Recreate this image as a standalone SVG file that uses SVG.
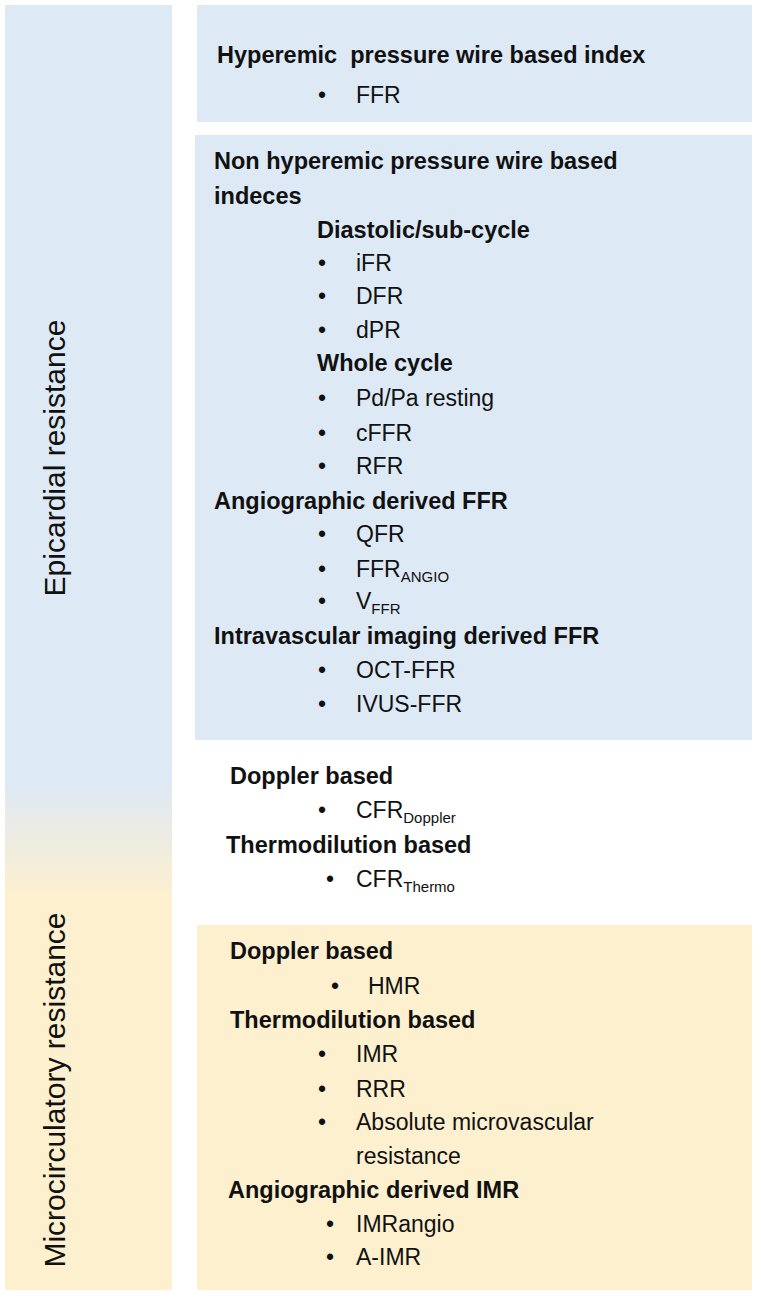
<svg xmlns="http://www.w3.org/2000/svg" width="761" height="1304" viewBox="0 0 761 1304">
<style>
text{font-family:"Liberation Sans",Arial,sans-serif;fill:#111;}
.h{font-size:23.5px;font-weight:bold;}
.t{font-size:23px;}
.s{font-size:15px;}
.v{font-size:30px;}
.blue{fill:#dde9f5;}
.yel{fill:#fdf0cf;}
</style>
<defs>
<linearGradient id="g" x1="0" y1="0" x2="0" y2="1">
<stop offset="0" stop-color="#dde9f5"/>
<stop offset="1" stop-color="#fbefd2"/>
</linearGradient>
</defs>
<rect width="761" height="1304" fill="#fff"/>
<g id="left-epicardial">
<rect x="5" y="5" width="167" height="775" class="blue"/>
<rect x="5" y="779" width="167" height="112" fill="url(#g)"/>
<text class="v" transform="translate(65,458) rotate(-90)" text-anchor="middle">Epicardial  resistance</text>
</g>
<g id="left-micro">
<rect x="5" y="890" width="167" height="400" class="yel"/>
<text class="v" transform="translate(65,1090) rotate(-90)" text-anchor="middle">Microcirculatory resistance</text>
</g>
<g id="hyperemic">
<rect x="197" y="5" width="555" height="117" class="blue"/>
<text class="h" x="217" y="63" xml:space="preserve">Hyperemic  pressure wire based index</text>
<text class="t" x="318" y="103">•</text><text class="t" x="356" y="103">FFR</text>
</g>
<g id="nonhyperemic">
<rect x="195" y="135" width="557" height="605" class="blue"/>
<text class="h" x="214" y="169">Non hyperemic pressure wire based</text>
<text class="h" x="214" y="204">indeces</text>
<text class="h" x="317" y="238">Diastolic/sub-cycle</text>
<text class="t" x="318" y="271">•</text><text class="t" x="356" y="271">iFR</text>
<text class="t" x="318" y="304">•</text><text class="t" x="356" y="304">DFR</text>
<text class="t" x="318" y="338">•</text><text class="t" x="356" y="338">dPR</text>
<text class="h" x="317" y="371">Whole cycle</text>
<text class="t" x="318" y="406">•</text><text class="t" x="356" y="406">Pd/Pa resting</text>
<text class="t" x="318" y="441">•</text><text class="t" x="356" y="441">cFFR</text>
<text class="t" x="318" y="474">•</text><text class="t" x="356" y="474">RFR</text>
<text class="h" x="214" y="509">Angiographic derived FFR</text>
<text class="t" x="318" y="542">•</text><text class="t" x="356" y="542">QFR</text>
<text class="t" x="318" y="577">•</text><text class="t" x="356" y="577">FFR<tspan class="s" dy="5">ANGIO</tspan></text>
<text class="t" x="318" y="609">•</text><text class="t" x="356" y="609">V<tspan class="s" dy="5">FFR</tspan></text>
<text class="h" x="214" y="644">Intravascular imaging derived FFR</text>
<text class="t" x="318" y="678">•</text><text class="t" x="356" y="678">OCT-FFR</text>
<text class="t" x="318" y="712">•</text><text class="t" x="356" y="712">IVUS-FFR</text>
</g>
<g id="cfr">
<text class="h" x="230" y="784">Doppler based</text>
<text class="t" x="318" y="818">•</text><text class="t" x="356" y="818">CFR<tspan class="s" dy="5">Doppler</tspan></text>
<text class="h" x="226" y="853">Thermodilution based</text>
<text class="t" x="326" y="887">•</text><text class="t" x="356" y="887">CFR<tspan class="s" dy="5">Thermo</tspan></text>
</g>
<g id="micro">
<rect x="197" y="925" width="555" height="365" class="yel"/>
<text class="h" x="230" y="959">Doppler based</text>
<text class="t" x="331" y="994">•</text><text class="t" x="368" y="994">HMR</text>
<text class="h" x="230" y="1028">Thermodilution based</text>
<text class="t" x="318" y="1062">•</text><text class="t" x="356" y="1062">IMR</text>
<text class="t" x="318" y="1097">•</text><text class="t" x="356" y="1097">RRR</text>
<text class="t" x="318" y="1130">•</text><text class="t" x="356" y="1130">Absolute microvascular</text>
<text class="t" x="356" y="1164">resistance</text>
<text class="h" x="228" y="1198">Angiographic derived IMR</text>
<text class="t" x="326" y="1232">•</text><text class="t" x="356" y="1232">IMRangio</text>
<text class="t" x="326" y="1265">•</text><text class="t" x="356" y="1265">A-IMR</text>
</g>
<g id="connectors"/>
</svg>
